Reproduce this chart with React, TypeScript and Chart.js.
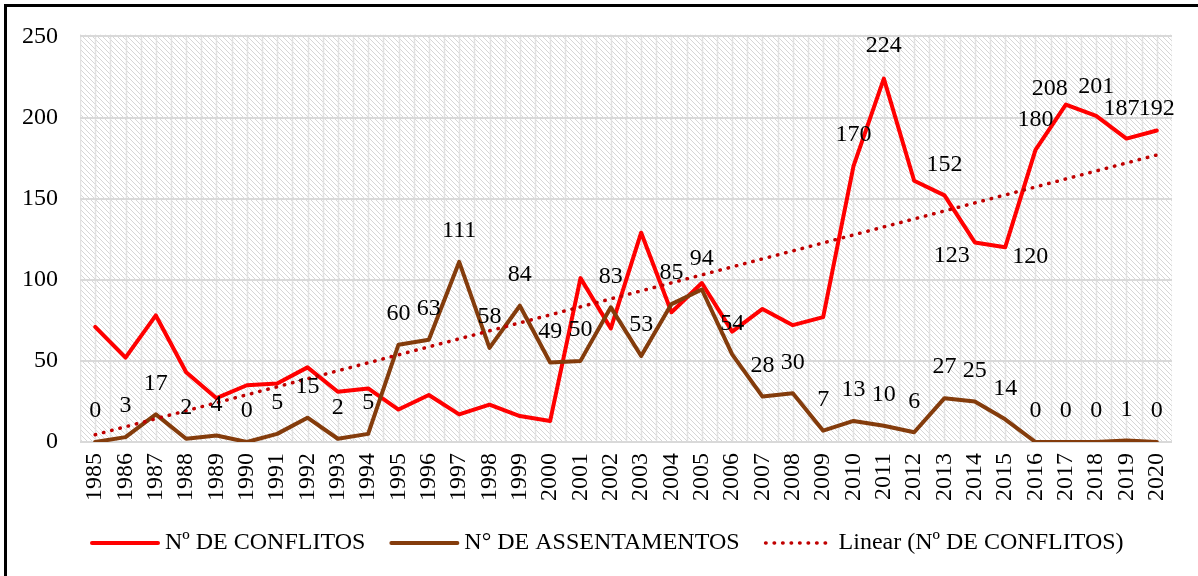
import React, { useEffect, useRef } from "react";
import { Chart, registerables } from "chart.js";

Chart.register(...registerables);

// ---------- data ----------
const years = [
  "1985", "1986", "1987", "1988", "1989", "1990", "1991", "1992", "1993", "1994",
  "1995", "1996", "1997", "1998", "1999", "2000", "2001", "2002", "2003", "2004",
  "2005", "2006", "2007", "2008", "2009", "2010", "2011", "2012", "2013", "2014",
  "2015", "2016", "2017", "2018", "2019", "2020",
];

const conflitos = [
  71, 52, 78, 43, 27, 35, 36, 46, 31, 33,
  20, 29, 17, 23, 16, 13, 101, 70, 129, 80,
  98, 68, 82, 72, 77, 170, 224, 161, 152, 123,
  120, 180, 208, 201, 187, 192,
];

const assentamentos = [
  0, 3, 17, 2, 4, 0, 5, 15, 2, 5,
  60, 63, 111, 58, 84, 49, 50, 83, 53, 85,
  94, 54, 28, 30, 7, 13, 10, 6, 27, 25,
  14, 0, 0, 0, 1, 0,
];

const yTickValues = [0, 50, 100, 150, 200, 250];

const seriesNames = ["Nº DE CONFLITOS", "N° DE ASSENTAMENTOS", "Linear (Nº DE CONFLITOS)"];

// label placement (offsets from the point, in px); null = no label
const conflitosLabelOffsets: ([number, number] | null)[] = years.map((_, i) => {
  const table: Record<number, [number, number]> = {
    25: [0, -31],
    26: [0, -33],
    28: [0, -31],
    29: [-23, 13],
    30: [25, 9],
    31: [0, -30],
    32: [-16, -16],
    33: [0, -29],
    34: [-5, -30],
    35: [0, -22],
  };
  return table[i] ?? null;
});
const assentamentosLabelOffsets: ([number, number] | null)[] = years.map(() => [0, -31]);

// least-squares linear trend of conflitos (as Excel's "Linear" trendline)
function linearTrend(values: number[]): number[] {
  const n = values.length;
  let sx = 0, sy = 0, sxx = 0, sxy = 0;
  values.forEach((v, i) => {
    const x = i + 1;
    sx += x; sy += v; sxx += x * x; sxy += x * v;
  });
  const slope = (n * sxy - sx * sy) / (n * sxx - sx * sx);
  const intercept = (sy - slope * sx) / n;
  return values.map((_, i) => intercept + slope * (i + 1));
}
const conflitosTrend = linearTrend(conflitos);

// ---------- styles ----------
const FONT = "'Times New Roman', 'Liberation Serif', serif";
const FS = 24;
const RED = "#FF0000";
const BROWN = "#843C0C";
const TREND = "#C00000";
const GRID = "#D9D9D9";

const patternPlugin = {
  id: "patternBg",
  beforeDraw(chart: any) {
    const { ctx, chartArea } = chart;
    if (!chartArea) return;
    const { left, top, right, bottom } = chartArea;
    ctx.save();
    ctx.fillStyle = "#FFFFFF";
    ctx.fillRect(0, 0, chart.width, chart.height);
    ctx.beginPath();
    ctx.rect(left, top - 2, right - left, bottom - top + 2);
    ctx.clip();
    // diagonal hatch (downward to the right)
    ctx.strokeStyle = "#D6D6D6";
    ctx.lineWidth = 1;
    const h = bottom - top + 4;
    ctx.beginPath();
    for (let x = left - h; x < right + 5; x += 5) {
      ctx.moveTo(x, top - 2);
      ctx.lineTo(x + h, top - 2 + h);
    }
    ctx.stroke();
    // vertical pattern lines at half-category steps
    const xs = chart.scales.x;
    const step = (right - left) / years.length / 2;
    ctx.strokeStyle = "#E2E2E2";
    ctx.lineWidth = 1.5;
    ctx.beginPath();
    for (let x = left; x <= right + 0.5; x += step) {
      ctx.moveTo(Math.round(x) + 0.5, top - 2);
      ctx.lineTo(Math.round(x) + 0.5, bottom);
    }
    ctx.stroke();
    ctx.restore();
  },
};

const labelPlugin = {
  id: "pointLabels",
  afterDatasetsDraw(chart: any) {
    const { ctx } = chart;
    ctx.save();
    ctx.font = `${FS}px ${FONT}`;
    ctx.fillStyle = "#000000";
    ctx.textAlign = "center";
    ctx.textBaseline = "middle";
    chart.data.datasets.forEach((ds: any, di: number) => {
      const offs = ds.labelOffsets as ([number, number] | null)[] | undefined;
      if (!offs) return;
      const meta = chart.getDatasetMeta(di);
      meta.data.forEach((pt: any, i: number) => {
        const o = offs[i];
        if (!o) return;
        ctx.fillText(String(ds.data[i]), pt.x + o[0], pt.y + o[1]);
      });
    });
    ctx.restore();
  },
};

const legendPlugin = {
  id: "customLegend",
  afterDraw(chart: any) {
    const { ctx } = chart;
    ctx.save();
    ctx.font = `${FS}px ${FONT}`;
    ctx.textBaseline = "middle";
    ctx.textAlign = "left";
    const y = 543;
    const lineLen = 68;
    const gapText = 7;
    const gapItem = 24;
    const styles = [
      { color: RED, width: 4, dash: [] as number[] },
      { color: BROWN, width: 4, dash: [] as number[] },
      { color: TREND, width: 3.5, dash: [0.5, 8] },
    ];
    let x = 90;
    seriesNames.forEach((name, i) => {
      const st = styles[i];
      ctx.beginPath();
      ctx.strokeStyle = st.color;
      ctx.lineWidth = st.width;
      ctx.lineCap = "round";
      ctx.setLineDash(st.dash);
      ctx.moveTo(x + 2, y);
      ctx.lineTo(x + lineLen, y);
      ctx.stroke();
      ctx.setLineDash([]);
      ctx.fillStyle = "#000000";
      ctx.fillText(name, x + lineLen + gapText, y);
      x += lineLen + gapText + ctx.measureText(name).width + gapItem;
    });
    // outer frame (left and top edges)
    ctx.fillStyle = "#000000";
    ctx.fillRect(4, 4, 3, chart.height - 4);
    ctx.fillRect(4, 4, chart.width - 4, 3);
    ctx.restore();
  },
};

export default function App() {
  const canvasRef = useRef<HTMLCanvasElement | null>(null);

  useEffect(() => {
    document.body.style.margin = "0";
    const canvas = canvasRef.current;
    if (!canvas) return;
    const chart = new Chart(canvas, {
      type: "line",
      data: {
        labels: years,
        datasets: [
          {
            label: seriesNames[2],
            data: conflitosTrend,
            borderColor: TREND,
            borderWidth: 3.5,
            borderDash: [0.5, 8],
            borderCapStyle: "round",
            pointRadius: 0,
            fill: false,
            tension: 0,
            order: 0,
          },
          {
            label: seriesNames[1],
            data: assentamentos,
            borderColor: BROWN,
            borderWidth: 4,
            borderJoinStyle: "round",
            borderCapStyle: "round",
            pointRadius: 0,
            fill: false,
            tension: 0,
            order: 1,
            labelOffsets: assentamentosLabelOffsets,
          } as any,
          {
            label: seriesNames[0],
            data: conflitos,
            borderColor: RED,
            borderWidth: 4,
            borderJoinStyle: "round",
            borderCapStyle: "round",
            pointRadius: 0,
            fill: false,
            tension: 0,
            order: 2,
            labelOffsets: conflitosLabelOffsets,
          } as any,
        ],
      },
      options: {
        responsive: true,
        maintainAspectRatio: false,
        animation: false,
        layout: { padding: { top: 36, right: 26, bottom: 0, left: 0 } },
        plugins: {
          legend: { display: false },
          tooltip: { enabled: false },
          title: { display: false },
        },
        scales: {
          x: {
            type: "category",
            offset: true,
            grid: { display: false, drawTicks: false },
            border: { display: false },
            ticks: {
              autoSkip: false,
              minRotation: 90,
              maxRotation: 90,
              padding: 11,
              color: "#000000",
              font: { family: FONT, size: FS },
            },
            afterFit(scale: any) {
              scale.height = 134;
            },
          },
          y: {
            min: 0,
            max: 250,
            afterBuildTicks(scale: any) {
              scale.ticks = yTickValues.map((v) => ({ value: v }));
            },
            grid: { color: GRID, lineWidth: 2, drawTicks: false },
            border: { display: false },
            ticks: {
              padding: 22,
              color: "#000000",
              font: { family: FONT, size: FS },
            },
            afterFit(scale: any) {
              scale.width = 80;
            },
          },
        },
      },
      plugins: [patternPlugin, labelPlugin, legendPlugin],
    });
    return () => chart.destroy();
  }, []);

  return (
    <div style={{ position: "absolute", left: 0, top: 0, width: 1198, height: 576 }}>
      <canvas ref={canvasRef} />
    </div>
  );
}
